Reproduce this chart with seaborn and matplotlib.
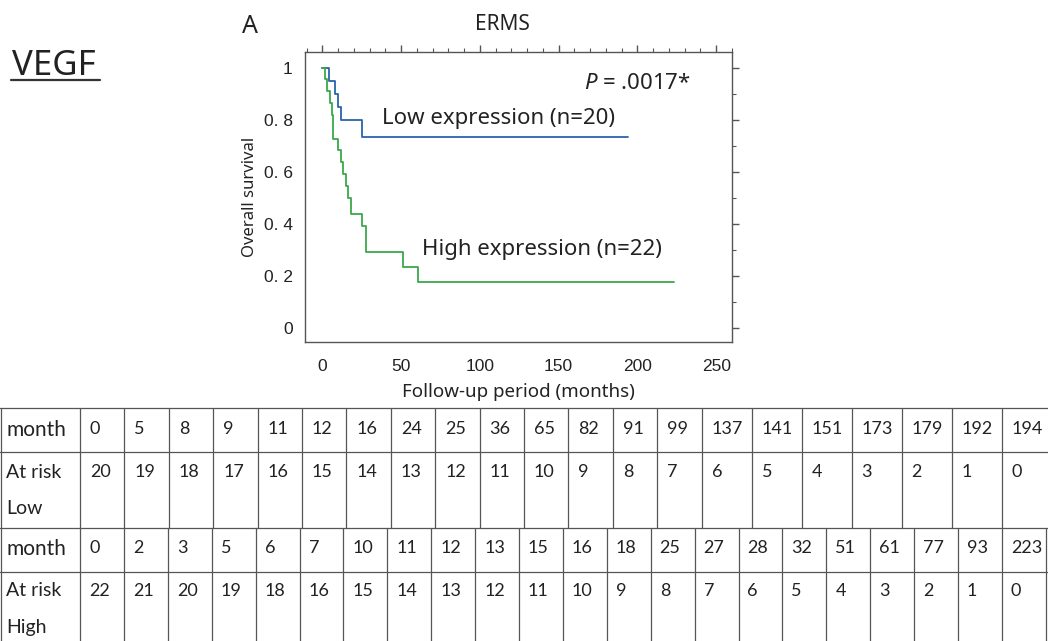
import numpy as np
import pandas as pd
import matplotlib.pyplot as plt
import seaborn as sns
from matplotlib.ticker import MultipleLocator

# Kaplan-Meier steps
low_months = [0, 4, 8, 10, 12, 25, 194]
low_surv = [1.0, 0.95, 0.90, 0.85, 0.80, 0.733, 0.733]
high_months = [0, 2, 3, 5, 6, 7, 10, 12, 13, 15, 16, 18, 25, 28, 51, 61, 223]
high_surv = [1.0, 0.955, 0.909, 0.864, 0.818, 0.727, 0.682, 0.636, 0.591,
             0.545, 0.50, 0.4375, 0.39, 0.292, 0.234, 0.175, 0.175]

# numbers at risk tables
risk_low_month = [0, 5, 8, 9, 11, 12, 16, 24, 25, 36, 65, 82, 91, 99, 137, 141, 151, 173, 179, 192, 194]
risk_low_n = [20, 19, 18, 17, 16, 15, 14, 13, 12, 11, 10, 9, 8, 7, 6, 5, 4, 3, 2, 1, 0]
risk_high_month = [0, 2, 3, 5, 6, 7, 10, 11, 12, 13, 15, 16, 18, 25, 27, 28, 32, 51, 61, 77, 93, 223]
risk_high_n = [22, 21, 20, 19, 18, 16, 15, 14, 13, 12, 11, 10, 9, 8, 7, 6, 5, 4, 3, 2, 1, 0]

group_colors = {'Low': '#2b63a8', 'High': '#3aa84a'}

km = pd.concat([
    pd.DataFrame({'month': low_months, 'surv': low_surv, 'group': 'Low'}),
    pd.DataFrame({'month': high_months, 'surv': high_surv, 'group': 'High'}),
], ignore_index=True)

sns.set_theme(style='white')
plt.rcParams['font.family'] = ['Noto Sans', 'DejaVu Sans']
plt.rcParams['mathtext.fontset'] = 'custom'
plt.rcParams['mathtext.it'] = 'Noto Sans:italic'
plt.rcParams['mathtext.rm'] = 'Noto Sans'

fig = plt.figure(figsize=(10.48, 6.41), dpi=100)

# full-figure axes in pixel units for the table and headings
tab = fig.add_axes([0, 0, 1, 1])
tab.set_xlim(0, 1048)
tab.set_ylim(641, 0)
tab.axis('off')

# survival plot
ax = fig.add_axes([305 / 1048, 1 - 342 / 641, 427 / 1048, 290 / 641])
sns.lineplot(data=km, x='month', y='surv', hue='group', palette=group_colors,
             drawstyle='steps-post', estimator=None, sort=False, legend=False,
             linewidth=1.3, ax=ax)

ax.set_xlim(-11, 260)
ax.set_ylim(-0.055, 1.06)
ax.set_xticks([0, 50, 100, 150, 200, 250])
ax.set_xticklabels(['0', '50', '100', '150', '200', '250'])
ax.set_yticks([0, 0.2, 0.4, 0.6, 0.8, 1.0])
ax.set_yticklabels(['0', '0. 2', '0. 4', '0. 6', '0. 8', '1'])
ax.xaxis.set_minor_locator(MultipleLocator(10))
ax.yaxis.set_minor_locator(MultipleLocator(0.1))
ax.tick_params(which='both', direction='out', top=True, right=True, color='#555555',
               labelsize=12.5)
ax.tick_params(axis='x', pad=7)
ax.tick_params(axis='y', pad=4)
ax.tick_params(which='major', length=5, width=1)
ax.tick_params(which='minor', length=3, width=0.8)
for lab in ax.get_xticklabels() + ax.get_yticklabels():
    lab.set_family(['Liberation Sans', 'DejaVu Sans'])
    lab.set_color('#222222')
for sp in ax.spines.values():
    sp.set_color('#555555')
    sp.set_linewidth(1)
ax.set_xlabel('Follow-up period (months)', fontsize=13.5, color='#222222', labelpad=7)
ax.set_ylabel('Overall survival', fontsize=12, color='#222222', labelpad=4)

ax.text(166, 0.94, r'$\it{P}$ = .0017*', fontsize=16, va='center', ha='left', color='#222222')
ax.text(38, 0.805, 'Low expression (n=20)', fontsize=16, va='center', ha='left', color='#222222')
ax.text(63, 0.30, 'High expression (n=22)', fontsize=16, va='center', ha='left', color='#222222')

# headings
tab.text(12, 75, 'VEGF', fontsize=25, va='baseline', ha='left', color='#222222')
tab.plot([11, 100], [80, 80], color='#333333', lw=1.6)
tab.text(242, 33, 'A', fontsize=18, va='baseline', ha='left', color='#222222')
tab.text(502, 30, 'ERMS', fontsize=15, va='baseline', ha='center', color='#222222')

# risk table layout
line_c = '#555555'
tfont = ['Lato', 'DejaVu Sans']
row_y = [408, 452, 528, 572]
for y in row_y:
    tab.plot([0, 1048], [y, y], color=line_c, lw=0.9)
tab.plot([0.8, 0.8], [408, 641], color=line_c, lw=0.9)

low_edges = np.concatenate([80 + 44.4 * np.arange(15), 80 + 44.4 * 14 + 50 * np.arange(1, 8)])
high_edges = 80 + 43.9 * np.arange(23)
for x in low_edges:
    tab.plot([x, x], [408, 528], color=line_c, lw=0.9)
for x in high_edges:
    tab.plot([x, x], [528, 641], color=line_c, lw=0.9)

tab.text(6, 430, 'month', fontsize=15, family=tfont, va='center', ha='left', color='#222222')
tab.text(6, 473, 'At risk', fontsize=14, family=tfont, va='center', ha='left', color='#222222')
tab.text(6, 509, 'Low', fontsize=14, family=tfont, va='center', ha='left', color='#222222')
tab.text(6, 549, 'month', fontsize=15, family=tfont, va='center', ha='left', color='#222222')
tab.text(6, 591, 'At risk', fontsize=14, family=tfont, va='center', ha='left', color='#222222')
tab.text(6, 627, 'High', fontsize=14, family=tfont, va='center', ha='left', color='#222222')

for i, (m, n) in enumerate(zip(risk_low_month, risk_low_n)):
    tab.text(low_edges[i] + 10, 429, str(m), fontsize=13, family=tfont, va='center', color='#222222')
    tab.text(low_edges[i] + 10, 472, str(n), fontsize=13, family=tfont, va='center', color='#222222')
for i, (m, n) in enumerate(zip(risk_high_month, risk_high_n)):
    tab.text(high_edges[i] + 9, 548, str(m), fontsize=13, family=tfont, va='center', color='#222222')
    tab.text(high_edges[i] + 9, 591, str(n), fontsize=13, family=tfont, va='center', color='#222222')

fig.savefig('out.png', dpi=100)
